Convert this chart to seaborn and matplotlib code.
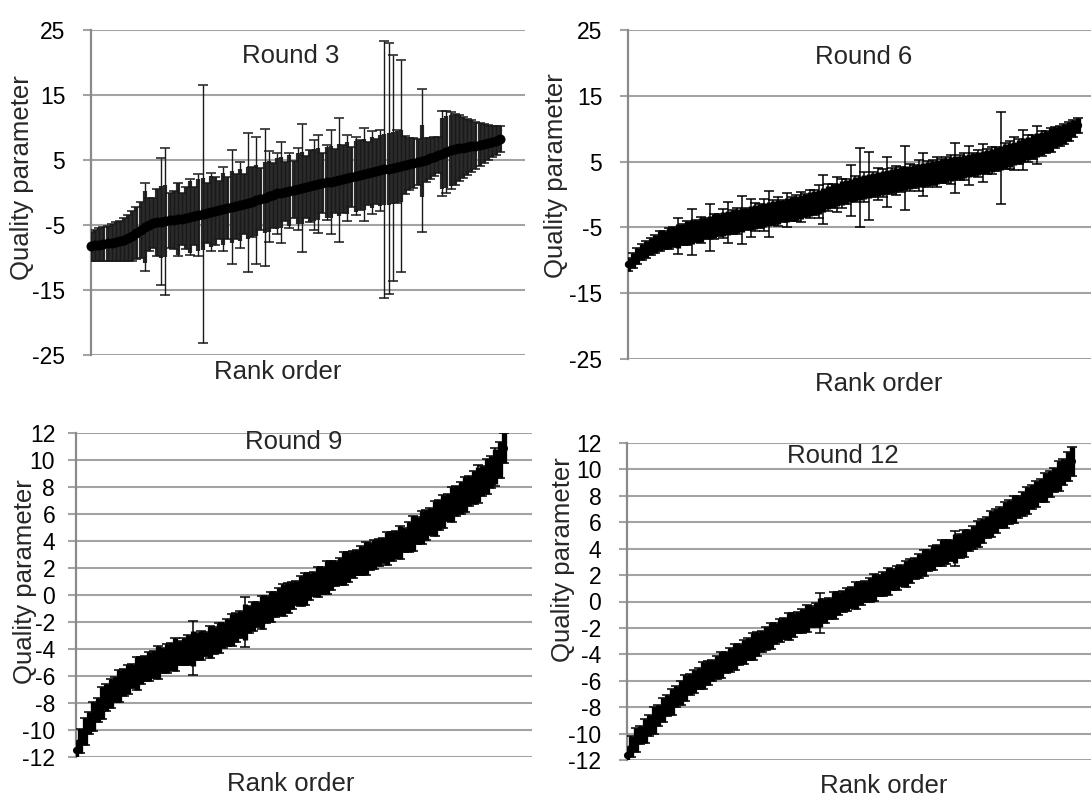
import numpy as np
import pandas as pd
import matplotlib
matplotlib.use("Agg")
import matplotlib.pyplot as plt
import seaborn as sns

# ---------------- data ----------------
tick_r3 = [-25, -15, -5, 5, 15, 25]
tick_r6 = [-25, -15, -5, 5, 15, 25]
tick_r9 = [-12, -10, -8, -6, -4, -2, 0, 2, 4, 6, 8, 10, 12]
tick_r12 = [-12, -10, -8, -6, -4, -2, 0, 2, 4, 6, 8, 10, 12]

r3_mean = [-8.3, -8.1, -8.0, -7.9, -7.8, -7.7, -7.6, -7.45, -7.25, -7.0,
           -6.7, -6.3, -5.8, -5.3, -4.95, -4.7, -4.6, -4.5, -4.4, -4.3,
           -4.2, -4.1, -4.0, -3.9, -3.75, -3.6, -3.45, -3.3, -3.1, -2.95,
           -2.8, -2.7, -2.55, -2.4, -2.25, -2.1, -1.95, -1.8, -1.6, -1.4,
           -1.2, -1.0, -0.8, -0.6, -0.4, -0.15, 0.0, 0.15, 0.3, 0.45,
           0.6, 0.7, 0.85, 1.0, 1.15, 1.3, 1.45, 1.55, 1.65, 1.8,
           1.9, 2.05, 2.2, 2.35, 2.5, 2.65, 2.8, 2.95, 3.1, 3.25,
           3.4, 3.55, 3.65, 3.8, 3.95, 4.1, 4.25, 4.4, 4.55, 4.7,
           4.85, 5.05, 5.25, 5.5, 5.75, 6.0, 6.25, 6.5, 6.65, 6.8,
           6.9, 7.0, 7.1, 7.2, 7.35, 7.5, 7.65, 7.8, 8.0, 8.2]
r3_err = [2.3, 2.4, 2.5, 2.6, 2.7, 2.8, 3.0, 3.1, 3.3, 3.5,
          3.8, 4.0, 4.3, 6.7, 4.1, 3.9, 5.2, 9.8, 11.3, 4.2,
          4.5, 5.6, 4.0, 4.8, 5.9, 4.4, 6.3, 19.8, 4.6, 6.0,
          5.2, 4.4, 6.4, 4.8, 8.8, 5.0, 6.6, 4.6, 10.7, 5.4,
          9.8, 4.8, 10.5, 7.0, 5.0, 6.2, 7.7, 4.6, 5.8, 4.4,
          6.3, 9.9, 4.7, 5.5, 6.9, 7.5, 4.6, 5.8, 8.0, 4.9,
          9.5, 5.2, 6.6, 4.6, 6.0, 5.4, 7.2, 4.8, 6.4, 5.0,
          6.2, 19.8, 19.3, 17.4, 5.6, 16.3, 4.5, 4.0, 3.8, 3.6,
          11.0, 3.4, 3.2, 3.0, 2.8, 6.6, 6.3, 5.9, 5.5, 5.1,
          4.7, 4.3, 4.0, 3.6, 3.3, 3.0, 2.7, 2.4, 2.2, 2.0]

r6_mean = [-10.6, -10.0, -9.3, -8.7, -8.3, -7.9, -7.5, -7.1, -6.9, -6.7,
           -6.5, -6.3, -6.1, -5.9, -5.7, -5.5, -5.35, -5.2, -5.0, -4.8,
           -4.6, -4.45, -4.3, -4.15, -4.0, -3.85, -3.7, -3.55, -3.4, -3.25,
           -3.1, -2.95, -2.8, -2.65, -2.5, -2.35, -2.2, -2.0, -1.85, -1.65,
           -1.45, -1.25, -1.1, -0.8, -0.45, -0.2, 0.0, 0.2, 0.4, 0.6,
           0.8, 1.0, 1.15, 1.3, 1.45, 1.6, 1.75, 1.9, 2.05, 2.2,
           2.35, 2.5, 2.6, 2.75, 2.9, 3.0, 3.15, 3.3, 3.45, 3.55,
           3.7, 3.85, 4.0, 4.1, 4.25, 4.4, 4.55, 4.7, 4.85, 5.0,
           5.15, 5.35, 5.55, 5.8, 6.0, 6.25, 6.5, 6.75, 7.0, 7.25,
           7.5, 7.75, 8.0, 8.3, 8.6, 8.9, 9.2, 9.6, 10.0, 10.5]
r6_err = [1.0, 1.1, 1.2, 1.2, 1.3, 1.3, 1.4, 1.5, 1.4, 1.6,
          1.5, 2.7, 1.6, 1.8, 3.5, 1.7, 2.0, 1.6, 3.6, 1.9,
          1.7, 2.2, 3.1, 1.8, 2.0, 3.6, 1.7, 2.9, 2.1, 1.8,
          2.4, 3.5, 1.9, 2.2, 1.7, 2.6, 1.8, 2.0, 2.3, 1.7,
          2.1, 1.9, 2.5, 3.7, 2.0, 1.8, 2.6, 2.2, 1.9, 3.9,
          2.0, 6.0, 2.3, 5.1, 1.9, 2.4, 2.1, 3.8, 2.0, 2.2,
          1.9, 4.8, 2.1, 1.8, 2.4, 3.3, 2.0, 1.9, 2.3, 1.8,
          2.0, 2.2, 3.8, 1.9, 2.1, 2.9, 1.8, 2.0, 2.9, 1.9,
          2.1, 1.8, 7.0, 2.0, 2.2, 2.5, 1.9, 3.1, 2.0, 1.8,
          2.9, 1.9, 1.7, 1.8, 1.6, 1.5, 1.5, 1.4, 1.3, 1.2]

r9_mean = [-11.5, -10.8, -10.1, -9.5, -9.0, -8.5, -8.0, -7.6, -7.3, -7.0,
           -6.75, -6.5, -6.25, -6.0, -5.8, -5.6, -5.45, -5.3, -5.15, -5.0,
           -4.85, -4.7, -4.55, -4.4, -4.3, -4.2, -4.05, -3.95, -3.85, -3.75,
           -3.65, -3.5, -3.35, -3.2, -3.0, -2.8, -2.6, -2.4, -2.2, -2.0,
           -1.8, -1.6, -1.45, -1.3, -1.1, -0.9, -0.7, -0.5, -0.35, -0.2,
           0.0, 0.15, 0.3, 0.45, 0.65, 0.8, 0.95, 1.1, 1.3, 1.45,
           1.6, 1.75, 1.95, 2.1, 2.25, 2.4, 2.55, 2.7, 2.85, 3.0,
           3.15, 3.3, 3.45, 3.6, 3.75, 3.9, 4.1, 4.3, 4.55, 4.8,
           5.0, 5.2, 5.45, 5.7, 5.95, 6.2, 6.45, 6.7, 6.95, 7.2,
           7.45, 7.7, 7.95, 8.2, 8.45, 8.75, 9.1, 9.5, 10.0, 10.9]
r9_err = [0.7, 0.9, 1.0, 0.8, 1.1, 0.9, 1.2, 1.0, 1.1, 0.9,
          1.2, 1.0, 1.1, 0.9, 1.2, 1.0, 0.9, 1.1, 1.0, 1.2,
          0.9, 1.1, 1.0, 1.2, 0.9, 1.0, 1.1, 2.0, 1.0, 1.1,
          0.9, 1.2, 1.0, 1.1, 0.9, 1.0, 1.2, 1.1, 1.0, 1.85,
          1.0, 1.1, 0.9, 1.2, 1.0, 1.1, 0.9, 1.0, 1.2, 1.1,
          1.0, 0.9, 1.1, 1.2, 1.0, 0.9, 1.1, 1.0, 1.2, 1.1,
          0.9, 1.0, 1.2, 1.1, 1.0, 0.9, 1.1, 1.2, 1.0, 1.1,
          1.0, 0.9, 1.2, 1.1, 1.0, 1.2, 0.9, 1.1, 1.3, 1.0,
          1.2, 1.1, 1.0, 1.3, 1.1, 1.2, 1.0, 1.3, 1.1, 1.2,
          1.3, 1.1, 1.2, 1.4, 1.1, 1.3, 1.2, 1.4, 1.3, 1.1]

r12_mean = [-11.6, -11.0, -10.5, -10.1, -9.8, -9.4, -9.0, -8.6, -8.2, -7.9,
            -7.6, -7.2, -6.9, -6.55, -6.3, -6.05, -5.8, -5.6, -5.4, -5.2,
            -5.0, -4.8, -4.6, -4.4, -4.2, -4.0, -3.8, -3.6, -3.4, -3.2,
            -3.0, -2.8, -2.6, -2.4, -2.2, -2.05, -1.9, -1.75, -1.6, -1.45,
            -1.3, -1.15, -1.0, -0.85, -0.7, -0.5, -0.3, -0.15, 0.0, 0.15,
            0.3, 0.45, 0.6, 0.75, 0.9, 1.05, 1.2, 1.35, 1.5, 1.65,
            1.8, 1.95, 2.1, 2.3, 2.5, 2.7, 2.9, 3.1, 3.3, 3.5,
            3.65, 3.75, 3.85, 4.0, 4.2, 4.4, 4.6, 4.85, 5.1, 5.35,
            5.6, 5.85, 6.1, 6.35, 6.55, 6.75, 6.95, 7.15, 7.4, 7.65,
            7.9, 8.15, 8.4, 8.65, 8.9, 9.2, 9.5, 9.8, 10.2, 10.6]
r12_err = [0.6, 0.8, 0.9, 0.7, 0.9, 0.8, 1.0, 0.8, 0.9, 0.8,
           1.0, 0.8, 0.9, 1.0, 0.8, 0.9, 0.8, 1.0, 0.9, 0.8,
           0.9, 1.0, 0.8, 0.9, 1.0, 0.8, 0.9, 0.8, 1.0, 0.9,
           0.8, 0.9, 1.0, 0.8, 0.9, 0.8, 1.0, 0.9, 0.8, 0.9,
           1.0, 0.8, 0.9, 1.5, 0.9, 0.8, 1.0, 0.9, 0.8, 0.9,
           0.8, 1.0, 0.9, 0.8, 0.9, 1.0, 0.8, 0.9, 1.0, 0.8,
           0.9, 0.8, 1.0, 0.9, 0.8, 0.9, 1.0, 0.8, 0.9, 0.8,
           1.0, 0.9, 0.8, 1.3, 0.9, 1.0, 0.8, 0.9, 1.0, 0.9,
           0.8, 1.0, 0.9, 0.8, 1.0, 0.9, 1.0, 0.8, 0.9, 1.0,
           0.9, 1.0, 0.9, 1.1, 1.0, 0.9, 1.1, 1.0, 1.1, 1.1]

titles = ["Round 3", "Round 6", "Round 9", "Round 12"]
x_label = "Rank order"
y_label = "Quality parameter"

# ---------------- style ----------------
sns.set_style("white")
plt.rcParams['font.family'] = ['Liberation Sans', 'DejaVu Sans']

W, H = 1091, 799
fig = plt.figure(figsize=(W / 100, H / 100), dpi=100)

GRID = '#a3a3a3'
AXIS = '#8a8a8a'

panels = [
    dict(mean=r3_mean, err=r3_err, ticks=tick_r3, box=(91, 30, 525, 355), xmax=105.0,
         title_xy=(291, 56), xlab_xy=(278, 372), ylab_xy=(22, 178), pad=12.5,
         dot=52, core=5.5, core_col='#2a2a2a', core_lw=3.0,
         thin_lw=1.0, thin_col='#1a1a1a'),
    dict(mean=r6_mean, err=r6_err, ticks=tick_r6, box=(628, 30, 1093, 359), xmax=102.3,
         title_xy=(864, 57), xlab_xy=(879, 384), ylab_xy=(556, 176), pad=12.5,
         dot=28, core=1.8, core_col='black', core_lw=3.8,
         thin_lw=1.1, thin_col='black'),
    dict(mean=r9_mean, err=r9_err, ticks=tick_r9, box=(76, 433, 532, 757), xmax=105.5,
         title_xy=(294, 442), xlab_xy=(291, 784), ylab_xy=(25, 582), pad=9,
         dot=26, core=1.3, core_col='black', core_lw=3.8,
         thin_lw=1.1, thin_col='black'),
    dict(mean=r12_mean, err=r12_err, ticks=tick_r12, box=(627, 443, 1093, 760), xmax=103.6,
         title_xy=(843, 456), xlab_xy=(884, 786), ylab_xy=(563, 560), pad=12.5,
         dot=26, core=1.1, core_col='black', core_lw=3.8,
         thin_lw=1.1, thin_col='black'),
]

for title, p in zip(titles, panels):
    l, t, r, b = p['box']
    ax = fig.add_axes([l / W, 1 - b / H, (r - l) / W, (b - t) / H])
    df = pd.DataFrame({'rank': np.arange(len(p['mean'])),
                       'q': p['mean'], 'err': p['err']})

    ax.errorbar(df['rank'], df['q'], yerr=np.minimum(df['err'], p['core']),
                fmt='none', ecolor=p['core_col'], elinewidth=p['core_lw'],
                capsize=0, zorder=3)
    ax.errorbar(df['rank'], df['q'], yerr=df['err'], fmt='none',
                ecolor=p['thin_col'], elinewidth=p['thin_lw'],
                capsize=3.8, capthick=1.1, zorder=3)
    sns.scatterplot(data=df, x='rank', y='q', ax=ax, s=p['dot'], color='black',
                    edgecolor='black', linewidth=0, zorder=4, clip_on=False,
                    legend=False)

    ax.set_xlim(0, p['xmax'])
    ax.set_ylim(p['ticks'][0], p['ticks'][-1])
    ax.set_yticks(p['ticks'])
    ax.set_yticklabels([str(v) for v in p['ticks']])
    ax.set_xticks([])
    ax.set_xlabel('')
    ax.set_ylabel('')
    ax.yaxis.grid(True, color=GRID, lw=1.5)
    ax.xaxis.grid(False)
    ax.set_axisbelow(True)
    for s in ['top', 'right', 'bottom']:
        ax.spines[s].set_visible(False)
    ax.spines['left'].set_color(AXIS)
    ax.spines['left'].set_linewidth(1.6)
    ax.spines['left'].set_zorder(2)
    ax.tick_params(axis='y', left=True, length=6, width=1.5, color=GRID,
                   pad=p['pad'], labelsize=16.5, labelcolor='black')
    ax.patch.set_alpha(0)

    fig.text(p['title_xy'][0] / W, 1 - p['title_xy'][1] / H, title,
             ha='center', va='center', fontsize=18.5)
    fig.text(p['xlab_xy'][0] / W, 1 - p['xlab_xy'][1] / H, x_label,
             ha='center', va='center', fontsize=18.5)
    fig.text(p['ylab_xy'][0] / W, 1 - p['ylab_xy'][1] / H, y_label,
             ha='center', va='center', rotation=90, fontsize=18.5)

fig.savefig('out.png', dpi=100, facecolor='white')
